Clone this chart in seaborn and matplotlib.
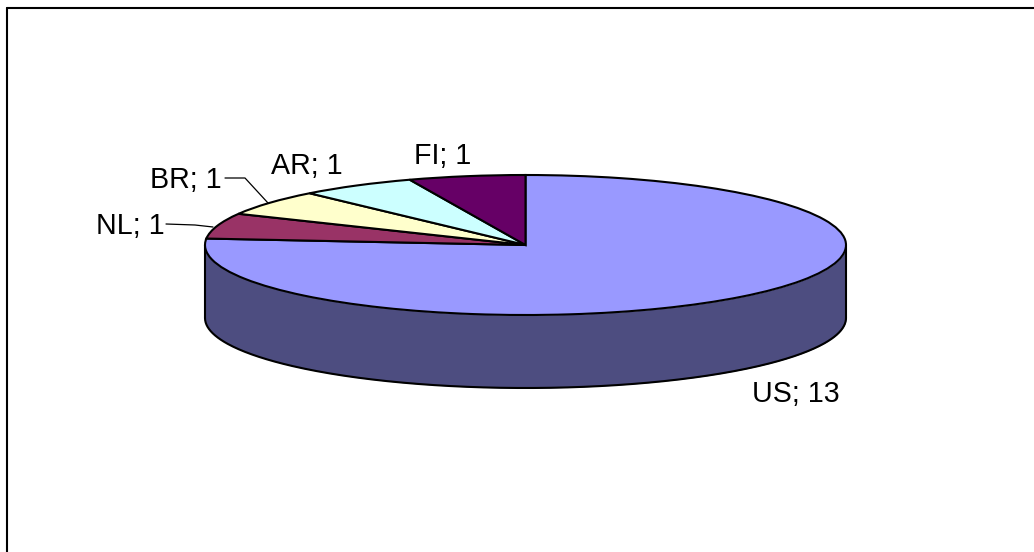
import numpy as np
import matplotlib
matplotlib.use("Agg")
import matplotlib.pyplot as plt
from matplotlib.lines import Line2D
import seaborn as sns

countries = ["US", "NL", "BR", "AR", "FI"]
counts = [13, 1, 1, 1, 1]
slice_colors = ["#9999FF", "#993366", "#FFFFCC", "#CCFFFF", "#660066"]
wall_color = "#4D4D80"

sns.set_theme(style="white")
plt.rcParams["font.family"] = ["Liberation Sans", "DejaVu Sans"]

W, H = 1034, 552
CX, CY, RX, RY, DEPTH = 525.5, 245.0, 320.5, 70.0, 73.0
INK = "#000000"
EDGE = 1.5

fig = plt.figure(figsize=(W / 100, H / 100), dpi=100, facecolor="white")
ax = fig.add_axes([0, 0, 1, 1])


def px(x, y):
    """Pixel position on the canvas to pie data units."""
    return (x - CX) / RX, (CY - y) / RY


palette = sns.color_palette(slice_colors)
ax.pie(
    counts,
    colors=palette,
    startangle=90,
    counterclock=False,
    radius=1,
    wedgeprops=dict(edgecolor=INK, linewidth=EDGE, zorder=3),
)
ax.set_aspect("auto")
ax.set_xlim(px(0, 0)[0], px(W, 0)[0])
ax.set_ylim(px(0, H)[1], px(0, 0)[1])

# Cylinder wall below the front half of the disc
depth = DEPTH / RY
theta = np.linspace(np.pi, 2 * np.pi, 300)
ax.fill_between(np.cos(theta), np.sin(theta), np.sin(theta) - depth,
                color=wall_color, linewidth=0, zorder=1)
ax.plot(np.cos(theta), np.sin(theta) - depth, color=INK, lw=EDGE, zorder=2)
ax.plot([-1, -1], [0, -depth], color=INK, lw=EDGE, zorder=2)
ax.plot([1, 1], [0, -depth], color=INK, lw=EDGE, zorder=2)

# Category labels with their value
label_centres = [(796, 394), (130, 226), (186, 179.5), (307, 165.5), (443, 156)]
for name, value, (x, y) in zip(countries, counts, label_centres):
    ax.text(*px(x, y), f"{name}; {value}", fontsize=20.6, color="#000000",
            ha="center", va="center", zorder=5)

# Leader lines for the two labels that sit away from their slices
for path in ([(166, 224), (195, 225), (213, 227)],
             [(225, 178), (245, 178), (268, 203)]):
    xs, ys = zip(*[px(*p) for p in path])
    ax.plot(xs, ys, color=INK, lw=0.9, zorder=4)

# Chart frame; its right and bottom edges fall off the canvas
fig.add_artist(Line2D([6.5 / W, 6.5 / W], [0, 1 - 7.5 / H], color=INK, lw=EDGE))
fig.add_artist(Line2D([6.5 / W, 1], [1 - 7.5 / H, 1 - 7.5 / H], color=INK, lw=EDGE))

fig.savefig("out.png", dpi=100, facecolor="white")
